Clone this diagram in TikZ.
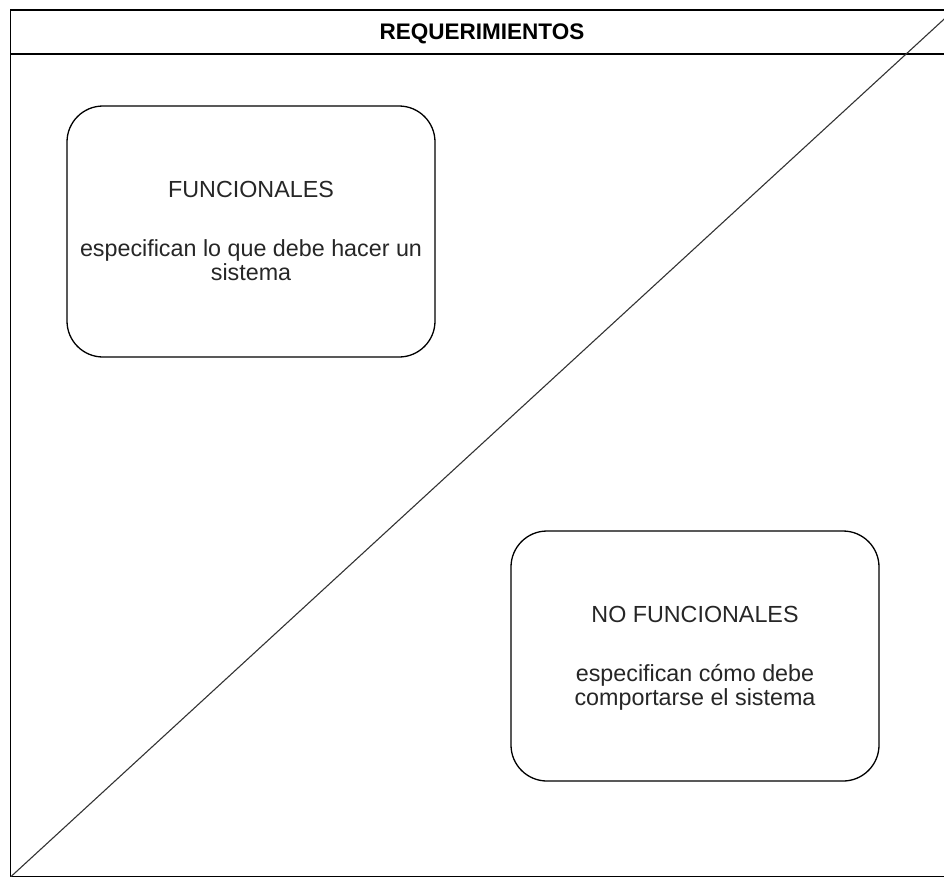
\documentclass[tikz,border=0pt]{standalone}
\usepackage{fontspec}
\setmainfont{Liberation Sans}
\begin{document}
\begin{tikzpicture}[x=1pt,y=-1pt,
  frame/.style={draw=black,line width=1.4pt},
  reqbox/.style={draw=black,line width=1.3pt,rounded corners=36pt},
  txt/.style={anchor=base,inner sep=0pt,text=black!85,font=\fontsize{23.3}{24}\selectfont},
  ttl/.style={anchor=base,inner sep=0pt,text=black,font=\fontsize{22.5}{26}\selectfont\bfseries}]
\clip (0,0) rectangle (944,876);
\fill[white] (0,0) rectangle (944,876);
% outer frame
\coordinate (tl) at (10.5,10);
\coordinate (br) at (954,877);
\coordinate (bl) at (10.5,877);
\coordinate (tr) at (954,10);
\draw[frame] (tl) rectangle (br);
\coordinate (hl) at (10.5,54);
\coordinate (hr) at (954,54);
\draw[frame] (hl) -- (hr);
\node[ttl] (title) at (482,39) {REQUERIMIENTOS};
% diagonal
\draw[line width=1.1pt,black!80] (bl) -- (tr);
% boxes
\draw[reqbox,fill=white] (67,106) rectangle (435,357);
\node[txt] (f1) at (251,197) {FUNCIONALES};
\node[txt] (f2) at (251,256) {especifican lo que debe hacer un};
\node[txt] (f3) at (251,280) {sistema};
\draw[reqbox,fill=white] (511,531) rectangle (879,781);
\node[txt] (n1) at (695,622) {NO FUNCIONALES};
\node[txt] (n2) at (695,681) {especifican cómo debe};
\node[txt] (n3) at (695,705) {comportarse el sistema};
\end{tikzpicture}
\end{document}
